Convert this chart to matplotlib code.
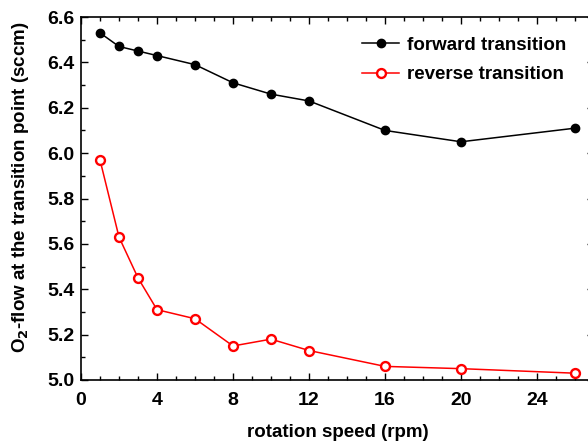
import matplotlib
matplotlib.use("Agg")
import matplotlib.pyplot as plt
from matplotlib.ticker import MultipleLocator, FixedLocator

# rotation speed (rpm) and O2 flow at transition (sccm)
speed = [1, 2, 3, 4, 6, 8, 10, 12, 16, 20, 26]
forward = [6.53, 6.47, 6.45, 6.43, 6.39, 6.31, 6.26, 6.23, 6.10, 6.05, 6.11]
reverse = [5.97, 5.63, 5.45, 5.31, 5.27, 5.15, 5.18, 5.13, 5.06, 5.05, 5.03]
xticks = [0, 4, 8, 12, 16, 20, 24]

plt.rcParams['font.family'] = ['Liberation Sans', 'DejaVu Sans']
plt.rcParams['font.weight'] = 'bold'
plt.rcParams['mathtext.default'] = 'bf'

fig = plt.figure(figsize=(5.88, 4.42), dpi=100)
# axes run slightly past the right edge of the figure
ax = fig.add_axes([81/588, (442-380)/442, (27*19)/588, (380-17)/442])

ax.plot(speed, forward, 'k-', marker='o', ms=6.0, lw=1.1, label='forward transition')
ax.plot(speed, reverse, '-', color='red', marker='o', ms=6.4, mfc='white', mec='red',
        mew=1.7, lw=1.1, label='reverse transition')

ax.set_xlim(0, 27)
ax.set_ylim(5.0, 6.6)
ax.xaxis.set_major_locator(FixedLocator(xticks))
ax.xaxis.set_minor_locator(MultipleLocator(1))
ax.yaxis.set_major_locator(MultipleLocator(0.2))
ax.yaxis.set_minor_locator(MultipleLocator(0.1))
ax.tick_params(which='both', direction='in', top=True, right=True, labelsize=14, width=1.0)
ax.tick_params(which='major', length=5)
ax.tick_params(which='minor', length=3)
ax.tick_params(axis='x', which='major', pad=8.5)
ax.tick_params(axis='y', which='major', pad=4.5)
for s in ax.spines.values():
    s.set_linewidth(1.2)

ax.set_xlabel('rotation speed (rpm)', fontsize=13.5, fontweight='bold', labelpad=11)
ax.set_ylabel('O$_2$-flow at the transition point (sccm)', fontsize=13.5, fontweight='bold')
ax.yaxis.set_label_coords(-50/513, 0.53)

leg = ax.legend(loc='upper left', bbox_to_anchor=((345-81)/(27*19), 1 - 3/363), frameon=False,
                fontsize=13.5, handlelength=2.0, handletextpad=0.4, labelspacing=0.65)

fig.savefig('out.png', dpi=100)
